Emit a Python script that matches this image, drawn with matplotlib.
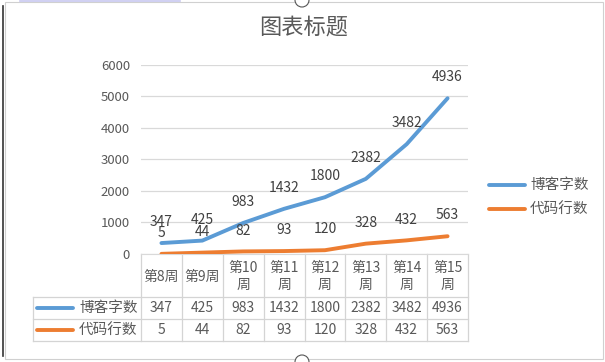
import numpy as np
import matplotlib
matplotlib.use("Agg")
import matplotlib.pyplot as plt
from matplotlib.patches import Circle, Rectangle

plt.rcParams['font.family'] = ['Noto Sans CJK SC', 'DejaVu Sans']

# данные
weeks = ["第8周", "第9周", "第10\n周", "第11\n周", "第12\n周", "第13\n周", "第14\n周", "第15\n周"]
series_names = ["博客字数", "代码行数"]
blog_words = [347, 425, 983, 1432, 1800, 2382, 3482, 4936]
code_lines = [5, 44, 82, 93, 120, 328, 432, 563]
colors = ["#5B9BD5", "#ED7D31"]
text_color = "#595959"
grid_color = "#D9D9D9"

W, H = 605, 362
fig = plt.figure(figsize=(W / 100, H / 100), dpi=100)

# overlay in pixel coords for frame, table and legend
ov = fig.add_axes([0, 0, 1, 1])
ov.set_xlim(0, W)
ov.set_ylim(H, 0)
ov.axis("off")

# frame
ov.add_patch(Rectangle((5, 2), 598, 357, fill=False, ec="#D0D0D0", lw=0.8))
ov.plot([3, 3], [6, 356], color="#333333", lw=1.2)
ov.plot([20, 180], [0.5, 0.5], color="#C8C8F0", lw=1.2)
for cy in (0, H):
    ov.add_patch(Circle((302, cy), 7, fill=True, fc="white", ec="#555555", lw=0.8, clip_on=False))

# main plot
x0, x1, ytop, ybot = 141, 468, 64.7, 254
ax = fig.add_axes([x0 / W, 1 - ybot / H, (x1 - x0) / W, (ybot - ytop) / H])
x = np.arange(len(weeks))
for vals, c in zip([blog_words, code_lines], colors):
    ax.plot(x, vals, color=c, lw=2.8, solid_capstyle="round", zorder=3)
    for xi, v in zip(x, vals):
        ax.annotate(str(v), (xi, v), xytext=(0, 15), textcoords="offset points",
                    ha="center", va="center", fontsize=10, color="#404040")
ax.set_xlim(-0.5, len(weeks) - 0.5)
ax.set_ylim(0, 6000)
ax.set_yticks(range(0, 6001, 1000))
ax.set_xticks([])
ax.grid(axis="y", color=grid_color, lw=0.9)
ax.set_axisbelow(True)
for s in ["top", "right", "left"]:
    ax.spines[s].set_visible(False)
ax.spines["bottom"].set_color(grid_color)
ax.tick_params(axis="y", length=0, pad=8, labelsize=9.5, labelcolor=text_color)
ax.patch.set_alpha(0)

# title
fig.text(304 / W, 1 - 27 / H, "图表标题", fontsize=16, color=text_color, ha="center", va="center")

# data table
cw = (x1 - x0) / len(weeks)
edges = [x0 + cw * i for i in range(len(weeks) + 1)]
rows = [254, 297, 319, 341]
lc = "#D4D4D4"
for e in edges:
    ov.plot([e, e], [rows[0], rows[-1]], color=lc, lw=0.9)
ov.plot([33, 33], [rows[1], rows[-1]], color=lc, lw=0.9)
for r in rows[1:]:
    ov.plot([33, x1], [r, r], color=lc, lw=0.9)
for i, w in enumerate(weeks):
    ov.text(edges[i] + cw / 2, (rows[0] + rows[1]) / 2 + 1, w, ha="center", va="center",
            fontsize=10, color=text_color, linespacing=1.3)
for k, (name, vals) in enumerate(zip(series_names, [blog_words, code_lines])):
    yc = (rows[k + 1] + rows[k + 2]) / 2
    ov.plot([37, 73], [yc, yc], color=colors[k], lw=2.8, solid_capstyle="round")
    ov.text(79, yc, name, ha="left", va="center", fontsize=10.5, color=text_color)
    for i, v in enumerate(vals):
        ov.text(edges[i] + cw / 2, yc, str(v), ha="center", va="center", fontsize=10, color=text_color)

# legend
for k, name in enumerate(series_names):
    ly = 185 + 24 * k
    ov.plot([489, 525], [ly, ly], color=colors[k], lw=2.8, solid_capstyle="round")
    ov.text(530, ly, name, ha="left", va="center", fontsize=10.5, color=text_color)

fig.savefig("out.png", dpi=100)
